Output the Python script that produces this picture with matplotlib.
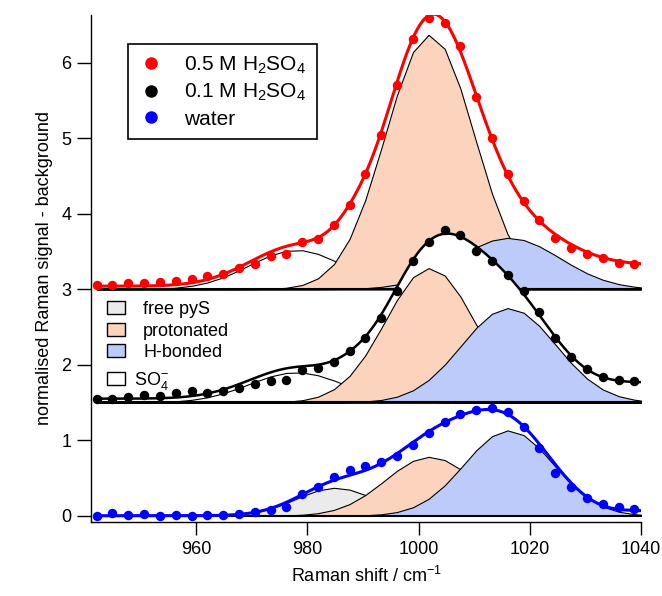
import numpy as np
import matplotlib
matplotlib.use("Agg")
import matplotlib.pyplot as plt
from matplotlib.lines import Line2D
from matplotlib.patches import Patch

plt.rcParams['font.family'] = ['Liberation Sans', 'DejaVu Sans']
plt.rcParams['mathtext.fontset'] = 'custom'
plt.rcParams['mathtext.rm'] = 'Liberation Sans'
plt.rcParams['mathtext.it'] = 'Liberation Sans:italic'

# Raman shift of the measured points (cm-1)
shift = [942.1, 944.9, 947.8, 950.6, 953.5, 956.3, 959.2, 962.0, 964.8, 967.7,
         970.5, 973.4, 976.2, 979.1, 981.9, 984.8, 987.6, 990.4, 993.3, 996.1,
         999.0, 1001.8, 1004.7, 1007.5, 1010.4, 1013.2, 1016.0, 1018.9, 1021.7, 1024.6,
         1027.4, 1030.3, 1033.1, 1036.0, 1038.8]

# normalised signal - background, already stacked with the offsets below
sig_05 = [3.06, 3.06, 3.08, 3.08, 3.09, 3.11, 3.13, 3.18, 3.20, 3.28,
          3.33, 3.44, 3.46, 3.62, 3.66, 3.85, 4.12, 4.52, 5.04, 5.70,
          6.32, 6.59, 6.52, 6.22, 5.55, 5.00, 4.52, 4.17, 3.92, 3.68,
          3.55, 3.47, 3.41, 3.35, 3.34]
sig_01 = [1.54, 1.55, 1.57, 1.60, 1.58, 1.63, 1.65, 1.62, 1.65, 1.69,
          1.75, 1.79, 1.80, 1.93, 1.96, 2.03, 2.18, 2.36, 2.62, 2.98,
          3.38, 3.63, 3.78, 3.72, 3.50, 3.38, 3.19, 2.97, 2.70, 2.36,
          2.10, 1.94, 1.84, 1.80, 1.79]
sig_water = [0.00, 0.03, 0.01, 0.02, -0.01, 0.01, -0.01, 0.01, 0.01, 0.02,
             0.05, 0.08, 0.11, 0.29, 0.38, 0.51, 0.60, 0.66, 0.71, 0.79,
             0.94, 1.10, 1.24, 1.35, 1.40, 1.43, 1.38, 1.18, 0.90, 0.57,
             0.38, 0.23, 0.15, 0.11, 0.09]

off_05, off_01, off_water = 3.0, 1.5, 0.0

# fitted gaussian bands: [first band, protonated, H-bonded]
# first band is SO4- for the acid samples and free pyS for water
centre_05 = [978.0, 1002.0, 1016.2]
height_05 = [0.52, 3.37, 0.68]
width_05 = [8.5, 8.0, 9.2]

centre_01 = [978.0, 1002.0, 1016.2]
height_01 = [0.40, 1.78, 1.25]
width_01 = [8.5, 8.0, 8.5]

centre_water = [985.0, 1002.0, 1016.2]
height_water = [0.37, 0.78, 1.13]
width_water = [7.0, 8.0, 8.0]

# background terms of the fit: step (low, height, position, width)
# and a broad residual band (position, height, width)
step_05 = [0.04, 0.28, 1022.0, 5.0]
resid_05 = [988.0, 0.14, 3.5]
step_01 = [0.05, 0.22, 1033.0, 3.5]
resid_01 = [988.0, 0.06, 3.5]
step_water = [0.00, 0.06, 1036.0, 2.0]
resid_water = [1003.0, 0.09, 11.0]

c_free = '#ebebeb'
c_prot = '#fcd4be'
c_hb = '#bccbfa'
c_so4 = 'white'


def gauss(x, c, h, w):
    return h * np.exp(-(x - c) ** 2 / (2 * w ** 2))


def step(x, p):
    return p[0] + p[1] / (1 + np.exp(-(x - p[2]) / p[3]))


fig = plt.figure(figsize=(6.62, 5.96), dpi=100)
ax = fig.add_axes([0.1375, 0.1242, 0.8308, 0.8507])

x_band = np.append(np.array(shift), 1040.0)
x_fit = np.linspace(shift[0], 1040.0, 500)

series = [
    (sig_05, off_05, centre_05, height_05, width_05, step_05, resid_05, 'red', c_so4, 2.2),
    (sig_01, off_01, centre_01, height_01, width_01, step_01, resid_01, 'black', c_so4, 1.8),
    (sig_water, off_water, centre_water, height_water, width_water, step_water, resid_water, 'blue', c_free, 2.2),
]

# each trace sits on its own layer, later ones cover the earlier ones
for s, (sig, off, cen, hei, wid, stp, res, col, first_fill, lw) in enumerate(series):
    z = 10 * s
    fit = off + step(x_fit, stp) + gauss(x_fit, *res)
    for k in range(3):
        fit = fit + gauss(x_fit, cen[k], hei[k], wid[k])
    ax.fill_between(x_fit, off, fit, facecolor='white', edgecolor='none', zorder=z)

    fills = [first_fill, c_prot, c_hb]
    for k in range(3):
        band = gauss(x_band, cen[k], hei[k], wid[k])
        ax.fill_between(x_band, off, off + band, facecolor=fills[k],
                        edgecolor='black', linewidth=0.8, zorder=z + 1 + k)
    ax.plot([shift[0], 1040.0], [off, off], color='black', lw=1.5, zorder=z + 4)
    ax.plot(x_fit, fit, color=col, lw=lw, zorder=z + 5)
    ax.plot(shift, sig, 'o', color=col, ms=6.8, mec='none', zorder=z + 6)

ax.set_xlim(941.1, 1040.0)
ax.set_ylim(-0.083, 6.632)
ax.set_xticks([960, 980, 1000, 1020, 1040])
ax.set_yticks(range(7))
for side in ['top', 'right']:
    ax.spines[side].set_visible(False)
for side in ['left', 'bottom']:
    ax.spines[side].set_linewidth(1.0)
ax.tick_params(direction='out', length=9.5, width=1.0, labelsize=13, pad=4)
ax.tick_params(axis='y', length=10)

ax.set_xlabel('Raman shift / cm$^{-1}$', fontsize=13, labelpad=6)
ax.set_ylabel('normalised Raman signal - background', fontsize=13, labelpad=6)

h1 = [Line2D([], [], ls='none', marker='o', ms=9, mec='none', color=c) for c in ['red', 'black', 'blue']]
leg1 = ax.legend(h1, ['0.5 M H$_2$SO$_4$', '0.1 M H$_2$SO$_4$', 'water'],
                 loc='upper left', bbox_to_anchor=(128 / 662, 1 - 44 / 596),
                 bbox_transform=fig.transFigure, borderaxespad=0, fontsize=15,
                 fancybox=False, framealpha=1, edgecolor='black',
                 handlelength=1.2, handletextpad=1.0, labelspacing=0.3,
                 borderpad=0.5)
leg1.get_frame().set_linewidth(1.2)
leg1.set_zorder(100)
ax.add_artist(leg1)

h2 = [Patch(facecolor=c, edgecolor='black', linewidth=1.0) for c in [c_free, c_prot, c_hb]]
leg2 = ax.legend(h2, ['free pyS', 'protonated', 'H-bonded'],
                 loc='upper left', bbox_to_anchor=(107 / 662, 1 - 301 / 596),
                 bbox_transform=fig.transFigure, borderaxespad=0, fontsize=13,
                 frameon=False, handlelength=1.0, handleheight=0.7,
                 handletextpad=1.0, labelspacing=0.25, borderpad=0)
leg2.set_zorder(100)
ax.add_artist(leg2)

h3 = [Patch(facecolor=c_so4, edgecolor='black', linewidth=1.0)]
leg3 = ax.legend(h3, ['SO$_4^{-}$'],
                 loc='upper left', bbox_to_anchor=(107 / 662, 1 - 370 / 596),
                 bbox_transform=fig.transFigure, borderaxespad=0, fontsize=13,
                 frameon=False, handlelength=1.0, handleheight=0.7,
                 handletextpad=0.5, borderpad=0)
leg3.set_zorder(100)

fig.savefig('out.png', dpi=100)
